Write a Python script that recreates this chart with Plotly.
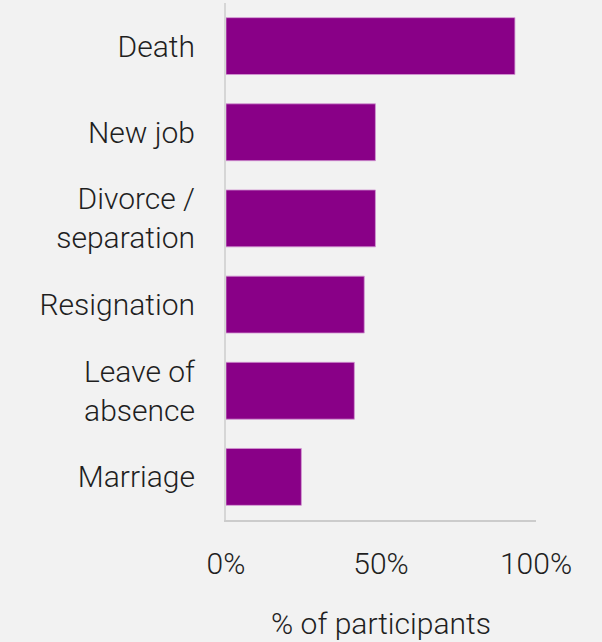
import plotly.graph_objects as go

categories = ["Death", "New job", "Divorce /<br>separation", "Resignation", "Leave of<br>absence", "Marriage"]
values = [93.2, 48.2, 48.2, 44.6, 41.4, 24.3]
tick_vals = [0, 50, 100]
tick_text = ["0%", "50%", "100%"]

font_family = "Roboto"
text_color = "#1f1f1f"
fs = 30

fig = go.Figure(go.Bar(
    x=values,
    y=categories,
    orientation="h",
    marker=dict(color="#890087", line=dict(color="rgba(210,150,210,0.8)", width=1)),
    width=0.66,
))

fig.update_layout(
    width=602, height=642,
    margin=dict(l=226, r=66, t=3, b=122),
    paper_bgcolor="#f2f2f2",
    plot_bgcolor="#f2f2f2",
    showlegend=False,
    font=dict(family=font_family, color=text_color, size=fs, weight=300),
)

fig.update_xaxes(
    range=[0, 100],
    tickvals=tick_vals,
    ticktext=tick_text,
    showgrid=False,
    zeroline=False,
    showline=True,
    linecolor="#cccccc",
    linewidth=2,
    ticks="",
    ticklabelstandoff=16,
    tickfont=dict(size=fs, family=font_family, color=text_color, weight=300),
    title=dict(text="% of participants", font=dict(size=fs, family=font_family, color=text_color, weight=300), standoff=33),
)

fig.update_yaxes(
    categoryorder="array",
    categoryarray=categories[::-1],
    autorange=True,
    showgrid=False,
    zeroline=False,
    showline=True,
    linecolor="#d6d6d6",
    linewidth=2,
    ticks="",
    ticklabelstandoff=23,
    tickfont=dict(size=fs, family=font_family, color=text_color, weight=300),
)

fig.write_html("out.html")
